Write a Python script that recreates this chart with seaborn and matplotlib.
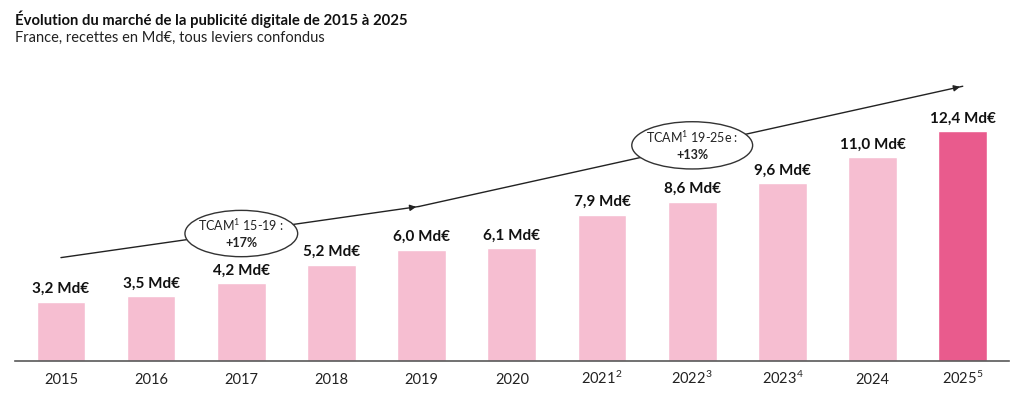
import numpy as np
import pandas as pd
import matplotlib.pyplot as plt
import seaborn as sns
from matplotlib.patches import Ellipse

YEARS = ["2015", "2016", "2017", "2018", "2019", "2020",
         "2021$^{2}$", "2022$^{3}$", "2023$^{4}$", "2024", "2025$^{5}$"]
VALUES = [3.2, 3.5, 4.2, 5.2, 6.0, 6.1, 7.9, 8.6, 9.6, 11.0, 12.4]
VALUE_LABELS = [f"{v:.1f}".replace(".", ",") + " Md€" for v in VALUES]

TITLE = "Évolution du marché de la publicité digitale de 2015 à 2025"
SUBTITLE = "France, recettes en Md€, tous leviers confondus"
CAGR_LABELS = [("TCAM$^{1}$ 15-19 :", "+17%"), ("TCAM$^{1}$ 19-25e :", "+13%")]

LIGHT = "#F6BED1"
DARK = "#E95B8D"

sns.set_theme(style="white")
plt.rcParams["font.family"] = ["Lato", "DejaVu Sans"]
plt.rcParams["mathtext.fontset"] = "custom"
plt.rcParams["mathtext.rm"] = "Lato"
plt.rcParams["mathtext.it"] = "Lato"
plt.rcParams["mathtext.bf"] = "Lato:bold"

fig = plt.figure(figsize=(10.24, 3.97), dpi=100)
ax = fig.add_axes([0.0146, 0.0907, 0.9705, 0.70])

df = pd.DataFrame({"year": YEARS, "value": VALUES})
colors = [LIGHT] * (len(YEARS) - 1) + [DARK]
sns.barplot(data=df, x="year", y="value", hue="year", palette=colors,
            legend=False, width=0.54, ax=ax, saturation=1)

ax.set_xlim(-0.51, 10.51)
ax.set_ylim(0, 15)
ax.set_xlabel("")
ax.set_ylabel("")
ax.set_yticks([])
for side in ["top", "right", "left"]:
    ax.spines[side].set_visible(False)
ax.spines["bottom"].set_color("#595959")
ax.spines["bottom"].set_linewidth(1.2)
ax.tick_params(axis="x", length=0, pad=16.5, labelsize=10.5, colors="#222222")
# align year labels on their baseline so superscripts don't push them down
for lbl in ax.get_xticklabels():
    lbl.set_verticalalignment("baseline")

for i, (v, lab) in enumerate(zip(VALUES, VALUE_LABELS)):
    ax.annotate(lab, (i, v), xytext=(0, 4), textcoords="offset points",
                ha="center", va="bottom", fontsize=11, fontweight="bold",
                color="#111111")

# trend arrow (two segments with arrowheads)
pts = [(0, 5.58), (3.97, 8.34), (10, 14.83)]
for (x0, y0), (x1, y1) in zip(pts[:-1], pts[1:]):
    ax.plot([x0, x1], [y0, y1], color="#222222", lw=1, zorder=3, clip_on=False)
    ax.annotate("", xy=(x1, y1), xytext=(x1 - 0.12, y1 - 0.12 * (y1 - y0) / (x1 - x0)),
                arrowprops=dict(arrowstyle="-|>", color="#222222", lw=1,
                                mutation_scale=9), annotation_clip=False)

for (cx, cy, w, h), (l1, l2) in zip([(2, 6.88, 1.25, 2.5), (7, 11.64, 1.34, 2.55)],
                                    CAGR_LABELS):
    ax.add_patch(Ellipse((cx, cy), w, h, facecolor="white", edgecolor="#333333",
                         lw=1, zorder=4, clip_on=False))
    ax.text(cx, cy + 0.45, l1, ha="center", va="center", fontsize=9, zorder=5,
            color="#222222")
    ax.text(cx, cy - 0.5, l2, ha="center", va="center", fontsize=9,
            fontweight="bold", zorder=5, color="#222222")

fig.text(0.0146, 0.952, TITLE, fontsize=10.7, fontweight="bold", ha="left",
         va="center", color="#111111")
fig.text(0.0146, 0.904, SUBTITLE, fontsize=10.5, ha="left", va="center",
         color="#222222")

fig.savefig("out.png", dpi=100)
